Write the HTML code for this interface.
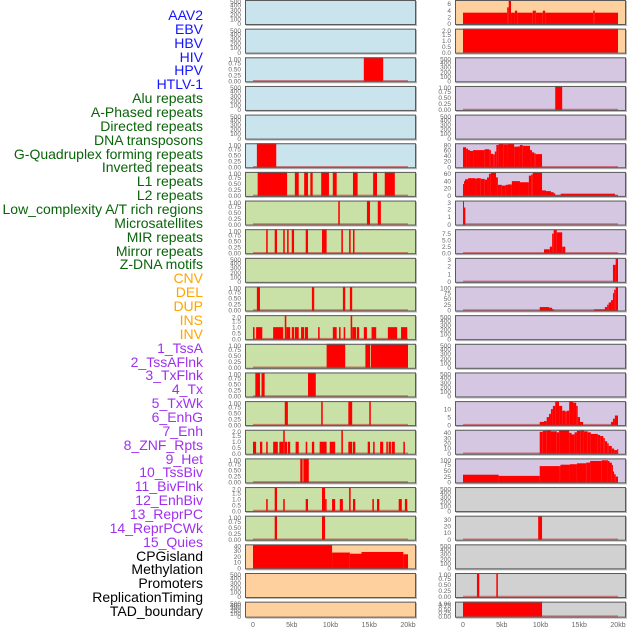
<!DOCTYPE html>
<html><head><meta charset="utf-8">
<style>
html,body{margin:0;padding:0;background:#fff;}
body{width:630px;height:630px;overflow:hidden;position:relative;font-family:"Liberation Sans",sans-serif;}
.lab{position:absolute;right:427px;font-size:14px;line-height:14px;white-space:nowrap;}
svg{position:absolute;left:0;top:0;}
</style></head>
<body>
<div id="labels"></div>
<svg id="chart" width="630" height="630"></svg>
<script>
// ---- labels ----
const labelNames = ["AAV2","EBV","HBV","HIV","HPV","HTLV-1","Alu repeats","A-Phased repeats","Directed repeats","DNA transposons","G-Quadruplex forming repeats","Inverted repeats","L1 repeats","L2 repeats","Low_complexity A/T rich regions","Microsatellites","MIR repeats","Mirror repeats","Z-DNA motifs","CNV","DEL","DUP","INS","INV","1_TssA","2_TssAFlnk","3_TxFlnk","4_Tx","5_TxWk","6_EnhG","7_Enh","8_ZNF_Rpts","9_Het","10_TssBiv","11_BivFlnk","12_EnhBiv","13_ReprPC","14_ReprPCWk","15_Quies","CPGisland","Methylation","Promoters","ReplicationTiming","TAD_boundary"];
const labelGroups = [0,0,0,0,0,0,1,1,1,1,1,1,1,1,1,1,1,1,1,2,2,2,2,2,3,3,3,3,3,3,3,3,3,3,3,3,3,3,3,4,4,4,4,4];
const groupColors = ["#1414ff","#0a640a","#ffa500","#a030f0","#000000"];

// ---- ticks ----
const ticksEmpty = [0,100,200,300,400,500];
const ticksBin = [0,0.25,0.5,0.75,1];
const ticks2 = [0,0.5,1,1.5,2];
const ticksCpg = [0,10,20,30,40];
const ticksAav = [0,2,4,6];
const ticksG = [0,20,40,60,80];
const ticksInv = [0,20,40,60];
const ticks3 = [0,1,2,3];
const ticksMir = [0,2.5,5,7.5];
const ticks100 = [0,25,50,75,100];
const ticks10 = [0,5,10];
const ticks30 = [0,10,20,30];
const xTickValues = [0,5,10,15,20];
const xTickLabels = ["0","5kb","10kb","15kb","20kb"];

// ---- data: [startKb, endKb, value] ----
const dHIV = [[14.3,16.8,1]];
const dGquadL = [[0.5,3.0,1]];
const dL1 = [[0.6,4.4,1],[5.4,5.9,1],[6.6,7.1,1],[7.4,7.7,1],[8.8,9.8,1],[10.3,10.8,1],[12.9,13.5,1],[15.5,16.0,1],[17.0,18.3,1]];
const dLowc = [[11.0,11.2,1],[14.7,15.1,1],[16.1,16.5,1]];
const dMIR = [[1.7,1.9,1],[2.8,3.1,1],[3.9,4.1,1],[4.4,4.6,1],[5.0,5.3,1],[6.8,7.1,1],[8.9,9.5,1],[11.4,11.6,1],[12.4,12.6,1],[12.9,13.1,1]];
const dZdnaL = [[0.5,0.9,1],[7.6,7.9,1],[11.6,11.9,1],[12.5,12.8,1]];
const dIns = [[0,0.2,1],[0.4,1.2,1],[2.6,3.9,1],[4.1,4.3,2],[4.3,4.8,1],[5.0,5.3,1],[5.4,5.9,1],[6.2,6.6,1],[6.7,7.1,1],[8.4,8.6,1],[10.3,10.8,1],[11.1,11.3,1],[11.7,11.9,1],[12.6,12.8,2],[12.8,13.3,1],[13.4,13.7,1],[14.3,14.7,1],[15.3,15.9,1],[17.4,18.6,1],[19.1,19.9,1]];
const dTssA = [[9.5,11.9,1],[14.5,15.1,1],[15.2,20,1]];
const dTxFlnk = [[0.3,0.9,1],[1.1,1.5,1],[7.1,8.1,1]];
const dTxWk = [[4.1,4.5,1],[8.8,9.0,1],[12.3,12.8,1],[15.0,15.2,1]];
const dEnh = [[0,0.4,1],[0.9,1.2,1],[1.7,1.9,1],[2.6,3.2,1],[3.4,3.9,1],[3.9,4.1,2],[4.1,4.4,1],[4.5,4.8,1],[5.5,5.9,1],[6.8,7.0,1],[7.6,7.9,1],[8.6,9.5,1],[9.9,10.6,1],[11.4,11.6,2],[12.3,12.8,1],[12.9,13.2,1],[14.8,15.1,1],[15.5,15.7,1],[16.4,16.8,1],[17.2,17.4,1],[17.5,17.8,1],[17.9,18.3,1],[19.4,19.6,1]];
const dHet = [[6.1,6.4,1],[6.5,7.2,1]];
const dBivFlnk = [[1.7,1.9,1],[2.8,3.1,2],[3.9,4.1,1],[6.8,7.1,1],[8.9,9.3,2],[9.3,9.5,1],[10.2,10.6,1],[11.2,11.6,1],[12.4,12.6,2],[12.9,13.2,1],[15.4,15.6,1],[16.0,16.3,1],[18.8,19.2,1],[19.6,19.9,1]];
const dReprPC = [[2.8,3.1,1],[8.9,9.3,1]];
const dCpg = [[0,10.2,40],[10.2,12.5,27],[12.5,14.0,25],[14.0,19.4,28],[19.4,20,24]];
const dAavR = [[0,5.7,3.4],[5.7,5.9,5],[5.9,6.2,7],[6.2,6.7,3.4],[6.7,7.0,4],[7.0,9.0,3.4],[9.0,9.4,4],[9.4,10.3,3.4],[10.3,10.6,4],[10.6,16.8,3.4],[16.8,17.0,4],[17.0,20,3.4]];
const dEbvR = [[0,20,2]];
const dAluR = [[11.9,12.8,1]];
const dGquadR = [[0,0.4,70],[0.4,0.65,65],[0.65,0.9,60],[0.9,1.3,57],[1.3,2.8,60],[2.8,3.4,63],[3.4,3.6,60],[3.6,3.9,47],[3.9,4.1,45],[4.1,4.3,55],[4.3,4.6,78],[4.6,5.2,82],[5.2,5.8,80],[5.8,6.6,82],[6.6,7.1,72],[7.1,7.35,73],[7.35,7.7,78],[7.7,8.65,75],[8.65,8.9,60],[8.9,9.2,52],[9.2,9.4,48],[9.4,10.2,46]];
const dInvR = [[0,0.13,32],[0.13,0.26,40],[0.26,0.65,45],[0.65,1.55,48],[1.55,1.8,47],[1.8,2.3,48],[2.3,2.8,46],[2.8,3.1,44],[3.1,3.35,50],[3.35,3.6,60],[3.6,4.26,63],[4.26,4.5,50],[4.5,5.0,30],[5.0,5.5,28],[5.5,5.8,30],[5.8,6.3,31],[6.3,7.35,40],[7.35,8.5,37],[8.5,8.8,55],[8.8,9.0,58],[9.0,10.2,63],[10.2,10.7,15],[10.7,11.35,13],[11.35,11.7,10],[11.7,11.9,7],[11.9,12.6,2],[12.6,19.6,6],[19.6,20,2]];
const dMicroR = [[0,0.1,3],[0.1,0.3,2.2]];
const dMirR = [[10.45,11.2,1.5],[11.2,11.5,2.5],[11.5,11.7,7.5],[11.7,12.1,9],[12.1,12.8,8],[12.8,13.2,2.5]];
const dZdnaR = [[19.35,19.7,2.2],[19.7,20,3]];
const dDelR = [[9.9,11.1,15],[11.1,11.5,12],[11.5,11.7,6],[16.9,18.3,5],[18.3,18.6,15],[18.6,18.8,25],[18.8,19.1,35],[19.1,19.35,45],[19.35,19.5,75],[19.5,19.7,90],[19.7,20,100]];
const dTxWkR = [[9.9,10.45,2],[10.45,10.8,2.5],[10.8,11.1,5],[11.1,11.35,7],[11.35,11.6,10],[11.6,11.9,12],[11.9,12.4,15],[12.4,12.8,12],[12.8,13.2,9],[13.2,13.4,8.5],[13.4,13.7,9],[13.7,14.2,15],[14.2,14.6,14],[14.6,14.8,12],[14.8,15.1,5],[15.1,15.5,2],[19.1,19.35,2],[19.35,19.6,4],[19.6,20,6]];
const dEnhGR = [[9.9,10.3,42],[10.3,10.8,44],[10.8,11.35,45],[11.35,12.1,43],[12.1,12.4,41],[12.4,13.7,45],[13.7,14.0,40],[14.0,14.4,37],[14.4,14.7,41],[14.7,15.2,44],[15.2,15.6,45],[15.6,16.1,43],[16.1,16.5,41],[16.5,17.4,38],[17.4,17.7,36],[17.7,18.1,34],[18.1,18.3,30],[18.3,18.6,24],[18.6,18.8,20],[18.8,19.2,15],[19.2,19.5,10],[19.5,19.9,7],[19.9,20,9]];
const dZnfR = [[0,4.6,33],[4.6,9.9,28],[9.9,12.5,70],[12.5,12.6,72],[12.6,13.8,76],[13.8,14.7,78],[14.7,15.9,82],[15.9,16.4,85],[16.4,17.9,92],[17.9,18.7,95],[18.7,18.9,92],[18.9,19.2,85],[19.2,19.35,75],[19.35,19.5,47],[19.5,19.7,35],[19.7,20,25]];
const dReprPCWkR = [[9.7,10.2,35]];
const dPromR = [[1.8,2.1,1],[4.3,4.5,1]];
const dTadR = [[0,10.2,1]];

const BLUE="#c9e4ec", GREEN="#c9e1a6", PEACH="#fed09e", LAV="#d5c6e2", GRAY="#d1d1d1";
const panels = [
 {c:0,r:0,bg:BLUE,ymax:520,t:ticksEmpty,d:null,n:"aav2"},
 {c:0,r:1,bg:BLUE,ymax:520,t:ticksEmpty,d:null,n:"hbv"},
 {c:0,r:2,bg:BLUE,ymax:1,t:ticksBin,d:dHIV,n:"hpv"},
 {c:0,r:3,bg:BLUE,ymax:520,t:ticksEmpty,d:null,n:"alu"},
 {c:0,r:4,bg:BLUE,ymax:520,t:ticksEmpty,d:null,n:"directed"},
 {c:0,r:5,bg:BLUE,ymax:1,t:ticksBin,d:dGquadL,n:"gquad"},
 {c:0,r:6,bg:GREEN,ymax:1,t:ticksBin,d:dL1,n:"l1"},
 {c:0,r:7,bg:GREEN,ymax:1,t:ticksBin,d:dLowc,n:"lowcomplexity"},
 {c:0,r:8,bg:GREEN,ymax:1,t:ticksBin,d:dMIR,n:"mir"},
 {c:0,r:9,bg:GREEN,ymax:520,t:ticksEmpty,d:null,n:"zdna"},
 {c:0,r:10,bg:GREEN,ymax:1,t:ticksBin,d:dZdnaL,n:"del"},
 {c:0,r:11,bg:GREEN,ymax:2,t:ticks2,d:dIns,n:"ins"},
 {c:0,r:12,bg:GREEN,ymax:1,t:ticksBin,d:dTssA,n:"tssa"},
 {c:0,r:13,bg:GREEN,ymax:1,t:ticksBin,d:dTxFlnk,n:"txflnk"},
 {c:0,r:14,bg:GREEN,ymax:1,t:ticksBin,d:dTxWk,n:"txwk"},
 {c:0,r:15,bg:GREEN,ymax:2,t:ticks2,d:dEnh,n:"enh"},
 {c:0,r:16,bg:GREEN,ymax:1,t:ticksBin,d:dHet,n:"het"},
 {c:0,r:17,bg:GREEN,ymax:2,t:ticks2,d:dBivFlnk,n:"bivflnk"},
 {c:0,r:18,bg:GREEN,ymax:1,t:ticksBin,d:dReprPC,n:"reprpc"},
 {c:0,r:19,bg:PEACH,ymax:41,t:ticksCpg,d:dCpg,n:"cpgisland"},
 {c:0,r:20,bg:PEACH,ymax:520,t:ticksEmpty,d:null,n:"promoters"},
 {c:0,r:21,bg:PEACH,ymax:520,t:ticksEmpty,d:null,n:"tad-left"},
 {c:1,r:0,bg:PEACH,ymax:7.2,t:ticksAav,d:dAavR,n:"ebv"},
 {c:1,r:1,bg:PEACH,ymax:2,t:ticks2,d:dEbvR,n:"hiv"},
 {c:1,r:2,bg:LAV,ymax:520,t:ticksEmpty,d:null,n:"htlv"},
 {c:1,r:3,bg:LAV,ymax:1,t:ticksBin,d:dAluR,n:"aphased"},
 {c:1,r:4,bg:LAV,ymax:520,t:ticksEmpty,d:null,n:"dna-transposons"},
 {c:1,r:5,bg:LAV,ymax:84,t:ticksG,d:dGquadR,n:"inverted"},
 {c:1,r:6,bg:LAV,ymax:65,t:ticksInv,d:dInvR,n:"l2"},
 {c:1,r:7,bg:LAV,ymax:3.1,t:ticks3,d:dMicroR,n:"microsatellites"},
 {c:1,r:8,bg:LAV,ymax:9.2,t:ticksMir,d:dMirR,n:"mirror"},
 {c:1,r:9,bg:LAV,ymax:3.1,t:ticks3,d:dZdnaR,n:"cnv"},
 {c:1,r:10,bg:LAV,ymax:104,t:ticks100,d:dDelR,n:"dup"},
 {c:1,r:11,bg:LAV,ymax:520,t:ticksEmpty,d:null,n:"inv"},
 {c:1,r:12,bg:LAV,ymax:520,t:ticksEmpty,d:null,n:"tssaflnk"},
 {c:1,r:13,bg:LAV,ymax:520,t:ticksEmpty,d:null,n:"tx"},
 {c:1,r:14,bg:LAV,ymax:15,t:ticks10,d:dTxWkR,n:"enhg"},
 {c:1,r:15,bg:LAV,ymax:46,t:ticksCpg,d:dEnhGR,n:"znf-rpts"},
 {c:1,r:16,bg:LAV,ymax:103,t:ticks100,d:dZnfR,n:"tssbiv"},
 {c:1,r:17,bg:GRAY,ymax:520,t:ticksEmpty,d:null,n:"enhbiv"},
 {c:1,r:18,bg:GRAY,ymax:36,t:ticks30,d:dReprPCWkR,n:"reprpcwk"},
 {c:1,r:19,bg:GRAY,ymax:520,t:ticksEmpty,d:null,n:"methylation"},
 {c:1,r:20,bg:GRAY,ymax:1,t:ticksBin,d:dPromR,n:"replication-timing"},
 {c:1,r:21,bg:GRAY,ymax:1,t:ticksBin,d:dTadR,n:"tad-boundary"}
];

const labDiv = document.getElementById('labels');
labelNames.forEach((t,i)=>{
  const el = document.createElement('div');
  el.className='lab';
  el.style.top=(8+i*13.86)+'px';
  el.style.color=groupColors[labelGroups[i]];
  el.textContent=t;
  
  
  labDiv.appendChild(el);
});

const NS="http://www.w3.org/2000/svg";
const svg=document.getElementById('chart');
function mk(tag,attrs,parent){const e=document.createElementNS(NS,tag);for(const k in attrs)e.setAttribute(k,attrs[k]);(parent||svg).appendChild(e);return e;}
function panelX(c){return c===0?245:455;}
function xScale(c,kb){return panelX(c)+8+kb*7.75;}
function rowTop(r){return r*28.65;}
function rowH(r){return r===21?16:25;}
function fmt(t,arr){
  if(arr===ticksBin) return t.toFixed(2);
  if(arr===ticks2 || arr===ticksMir) return t.toFixed(1);
  return String(t);
}
panels.forEach(p=>{
  const x0=panelX(p.c), y0=rowTop(p.r), h=rowH(p.r), w=171;
  const g=mk('g',{});
  
  
  mk('rect',{x:x0+1,y:y0+1,width:w,height:h,fill:'#b8b8b8'},g);
  mk('rect',{x:x0,y:y0,width:w,height:h,fill:p.bg},g);
  const yS=v=>y0+h-1-(v/p.ymax)*(h-1);
  if(p.d){
    p.d.forEach(s=>{
      const bx=xScale(p.c,s[0]), bw=Math.max(1,xScale(p.c,s[1])-bx);
      const by=Math.max(y0,yS(s[2]));
      const bar=mk('rect',{x:bx,y:by,width:bw,height:y0+h-1-by,fill:'#ff0000'},g);
      
      
    });
    mk('line',{x1:xScale(p.c,0),x2:xScale(p.c,20),y1:y0+h-1.5,y2:y0+h-1.5,stroke:'rgba(190,40,40,0.55)','stroke-width':1.5},g);
  }
  mk('rect',{x:x0+0.5,y:y0+0.5,width:w-1,height:h-1,fill:'none',stroke:'#5a5a5a','stroke-width':1},g);
  p.t.forEach(t=>{
    let ty=yS(t); if(ty<y0+2)ty=y0+2;
    const tx=mk('text',{x:x0-4,y:ty+2.2,'text-anchor':'end','font-size':'6.5',fill:'#666','font-family':'Liberation Sans, sans-serif'},g);
    tx.textContent=fmt(t,p.t);
    
    
  });
});
[0,1].forEach(c=>{
  xTickValues.forEach((v,i)=>{
    const t=mk('text',{x:xScale(c,v),y:627,'text-anchor':'middle','font-size':'7',fill:'#666','font-family':'Liberation Sans, sans-serif'});
    t.textContent=xTickLabels[i];
    
    
  });
});
</script>
</body></html>
